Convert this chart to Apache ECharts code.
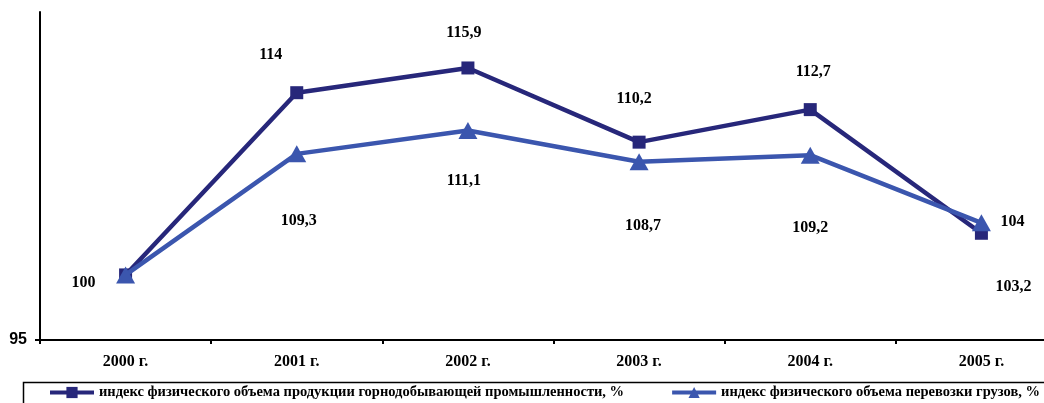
<!DOCTYPE html>
<html>
<head>
<meta charset="utf-8">
<script src="https://cdn.jsdelivr.net/npm/echarts@6/dist/echarts.min.js"></script>
<style>
  html, body { margin: 0; padding: 0; background: #fff; }
  #chart { width: 1044px; height: 403px; }
</style>
</head>
<body>
<div id="chart"></div>
<script>
// Years on the category axis
const years = ['2000 г.', '2001 г.', '2002 г.', '2003 г.', '2004 г.', '2005 г.'];

// Index of physical volume, %
const miningValues = [100, 114, 115.9, 110.2, 112.7, 103.2];
const freightValues = [100, 109.3, 111.1, 108.7, 109.2, 104];

const seriesNames = [
  'индекс физического объема продукции горнодобывающей промышленности, %',
  'индекс физического объема перевозки грузов, %'
];

// Value-axis range and the single labelled tick
const yMin = 95;
const yMax = 120.2;
const yTicks = [95];

// Label placement around each point (pixels from the marker centre)
const miningLabelShift = [[-42, 8], [-26, -38], [-4, -35], [-5, -43], [3, -38], [32, 54]];
const freightLabelShift = [null, [2, 67], [-4, 50], [4, 64], [0, 73], [31, -1]];

const serif = 'Liberation Serif, Times New Roman, serif';
const fmt = v => String(v).replace('.', ',');

function withLabels(values, shifts) {
  return values.map((v, i) => {
    const s = shifts[i];
    if (!s) return { value: v, label: { show: false } };
    return { value: v, label: { show: true, position: 'inside', offset: s } };
  });
}

const chart = echarts.init(document.getElementById('chart'), null, { renderer: 'canvas' });

const labelStyle = {
  show: true,
  position: 'inside',
  color: '#000',
  fontFamily: serif,
  fontWeight: 'bold',
  fontSize: 16,
  formatter: p => fmt(p.value)
};

const darkBlue = '#27277a';
const midBlue = '#3b56ae';

chart.setOption({
  animation: false,
  backgroundColor: '#fff',
  grid: { left: 40, top: 12, width: 1027, height: 328, outerBoundsMode: 'none' },
  xAxis: {
    type: 'category',
    data: years,
    boundaryGap: true,
    axisLine: { lineStyle: { color: '#000', width: 2 } },
    axisTick: { show: true, length: 4, lineStyle: { color: '#000', width: 2 } },
    axisLabel: { color: '#000', fontFamily: serif, fontWeight: 'bold', fontSize: 16, margin: 14 },
    splitLine: { show: false }
  },
  yAxis: {
    type: 'value',
    min: yMin,
    max: yMax,
    axisLine: { show: true, lineStyle: { color: '#000', width: 2 } },
    axisTick: { show: true, length: 5, customValues: yTicks, lineStyle: { color: '#000', width: 2 } },
    axisLabel: {
      customValues: yTicks,
      color: '#000',
      fontFamily: 'Liberation Sans, Arial, sans-serif',
      fontWeight: 'bold',
      fontSize: 16,
      margin: 13
    },
    splitLine: { show: false }
  },
  // legend frame, open to the right edge
  graphic: [{
    type: 'rect',
    left: 21,
    top: 380,
    shape: { width: 1100, height: 40 },
    style: { fill: 'none', stroke: '#000', lineWidth: 1.5 },
    silent: true
  }],
  legend: {
    left: 48,
    top: 385,
    width: 1200,
    padding: 0,
    itemGap: 46,
    itemWidth: 44,
    itemHeight: 14,
    textStyle: { color: '#000', fontFamily: serif, fontWeight: 'bold', fontSize: 14.5 },
    data: [
      { name: seriesNames[0], lineStyle: { width: 4 } },
      { name: seriesNames[1], lineStyle: { width: 4 } }
    ]
  },
  series: [
    {
      name: seriesNames[0],
      type: 'line',
      data: withLabels(miningValues, miningLabelShift),
      symbol: 'rect',
      symbolSize: 13,
      color: darkBlue,
      lineStyle: { color: darkBlue, width: 4.5 },
      itemStyle: { color: darkBlue },
      label: labelStyle,
      z: 2
    },
    {
      name: seriesNames[1],
      type: 'line',
      data: withLabels(freightValues, freightLabelShift),
      symbol: 'triangle',
      symbolSize: [19, 17],
      color: midBlue,
      lineStyle: { color: midBlue, width: 4.5 },
      itemStyle: { color: midBlue },
      label: labelStyle,
      z: 3
    }
  ]
});
</script>
</body>
</html>
